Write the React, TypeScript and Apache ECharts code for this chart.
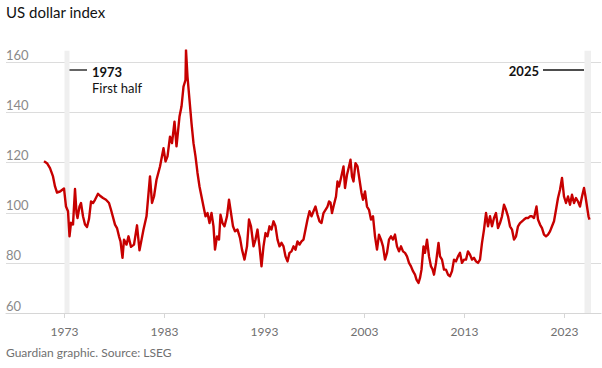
import React, { useEffect, useRef } from "react";
import * as echarts from "echarts";

const FONT = "Lato, 'Noto Sans', sans-serif";

const years: number[] = [
  1970.95, 1971.25, 1971.55, 1971.85, 1972.05, 1972.25, 1972.55, 1972.95, 1973.15, 1973.35,
  1973.5, 1973.65, 1973.85, 1974.05, 1974.2, 1974.3, 1974.5, 1974.65, 1974.85, 1975.05,
  1975.25, 1975.45, 1975.65, 1975.85, 1976.05, 1976.35, 1976.55, 1976.85, 1977.15, 1977.45,
  1977.65, 1978.05, 1978.25, 1978.45, 1978.6, 1978.8, 1978.95, 1979.2, 1979.4, 1979.65,
  1979.95, 1980.25, 1980.5, 1980.9, 1981.2, 1981.55, 1981.75, 1981.95, 1982.2, 1982.55,
  1982.9, 1983.1, 1983.3, 1983.55, 1983.75, 1984.0, 1984.2, 1984.5, 1984.7, 1984.9,
  1985.1, 1985.15, 1985.3, 1985.5, 1985.7, 1985.9, 1986.1, 1986.3, 1986.5, 1986.7,
  1986.9, 1987.1, 1987.3, 1987.5, 1987.7, 1987.9, 1988.05, 1988.25, 1988.45, 1988.6,
  1988.8, 1989.0, 1989.25, 1989.45, 1989.65, 1989.85, 1990.05, 1990.3, 1990.55, 1990.75,
  1991.0, 1991.25, 1991.45, 1991.65, 1991.9, 1992.1, 1992.3, 1992.5, 1992.7, 1992.9,
  1993.1, 1993.3, 1993.5, 1993.7, 1993.9, 1994.1, 1994.3, 1994.5, 1994.7, 1994.9,
  1995.1, 1995.3, 1995.5, 1995.7, 1995.9, 1996.1, 1996.3, 1996.5, 1996.7, 1996.9,
  1997.1, 1997.3, 1997.5, 1997.7, 1997.9, 1998.1, 1998.3, 1998.5, 1998.7, 1998.9,
  1999.1, 1999.3, 1999.45, 1999.6, 1999.75, 1999.9, 2000.15, 2000.3, 2000.45, 2000.65,
  2000.9, 2001.05, 2001.25, 2001.45, 2001.6, 2001.75, 2001.9, 2002.1, 2002.3, 2002.5,
  2002.7, 2002.85, 2003.05, 2003.25, 2003.45, 2003.65, 2003.85, 2004.05, 2004.25, 2004.45,
  2004.65, 2004.85, 2005.05, 2005.25, 2005.45, 2005.65, 2005.85, 2006.05, 2006.25, 2006.45,
  2006.65, 2006.85, 2007.05, 2007.25, 2007.45, 2007.65, 2007.85, 2008.05, 2008.2, 2008.4,
  2008.55, 2008.7, 2008.9, 2009.05, 2009.25, 2009.45, 2009.65, 2009.8, 2009.95, 2010.15,
  2010.4, 2010.55, 2010.75, 2010.95, 2011.15, 2011.35, 2011.55, 2011.75, 2011.95, 2012.15,
  2012.35, 2012.55, 2012.75, 2012.95, 2013.15, 2013.35, 2013.55, 2013.75, 2013.95, 2014.15,
  2014.35, 2014.55, 2014.75, 2014.95, 2015.15, 2015.35, 2015.55, 2015.75, 2015.95, 2016.15,
  2016.35, 2016.55, 2016.75, 2016.95, 2017.15, 2017.35, 2017.55, 2017.75, 2017.95, 2018.15,
  2018.35, 2018.55, 2018.75, 2018.95, 2019.15, 2019.35, 2019.55, 2019.75, 2019.95, 2020.2,
  2020.35, 2020.55, 2020.75, 2020.95, 2021.15, 2021.35, 2021.55, 2021.75, 2021.95, 2022.15,
  2022.35, 2022.55, 2022.75, 2022.95, 2023.15, 2023.35, 2023.55, 2023.75, 2023.95, 2024.15,
  2024.35, 2024.55, 2024.75, 2024.95, 2025.1, 2025.25, 2025.4, 2025.5,
];

const dollarIndex: number[] = [
  120.6, 119.8, 117.8, 114.5, 110.5, 108.1, 108.5, 109.7, 102.5, 100.6,
  90.6, 96, 95.3, 109.5, 99.9, 97.9, 102.5, 103.9, 98.6, 95.3,
  94.3, 97.5, 104.5, 103.9, 105.2, 107.6, 106.8, 105.9, 105.2, 103.9,
  101.2, 95.3, 93.9, 90.6, 88.6, 82, 89.3, 87.3, 90.6, 86.4,
  87.3, 95, 85, 93.3, 98.6, 114.5, 103.9, 106.5, 113.2, 118.5,
  125.8, 120.5, 122.5, 130.4, 127.8, 136.4, 126.5, 138.4, 142.4, 150.4,
  153, 165, 154.3, 145.1, 135.8, 127.8, 122.5, 115.9, 110.5, 106.5,
  102.5, 98.6, 99.9, 95.9, 99.9, 94.6, 85.3, 90.6, 89.3, 99.2,
  95.9, 94.6, 98.6, 105.2, 99.9, 94.6, 92.6, 93.3, 90, 85.3,
  81.3, 86.6, 97.3, 94.6, 86.6, 89.3, 93.3, 86.6, 78.6, 86.6,
  91.9, 90.6, 94.6, 93.3, 96.6, 94.6, 89.3, 86.6, 88, 86.6,
  82.6, 80.6, 84, 84.6, 86.6, 85.3, 88.6, 87.3, 88.6, 89.3,
  93.3, 97.3, 100.6, 98.6, 100.6, 102.5, 99.2, 96.6, 95.9, 99.9,
  101.2, 102.5, 104.5, 104, 99.9, 102.5, 106.5, 112.5, 110.5, 113.9,
  118.5, 109.9, 115.2, 118.5, 121.2, 114.5, 112.5, 119.8, 118.5, 113.2,
  107.9, 105.2, 108.5, 102.5, 101.2, 97.3, 98.6, 90.6, 85.3, 91.3,
  89.3, 86.6, 81.3, 84, 89.3, 90.6, 89.3, 91.3, 86.6, 84.6,
  86.6, 84.6, 84, 82.6, 80, 78.6, 76.7, 75.3, 73.3, 72,
  74, 77.3, 86.6, 84, 89.3, 82.6, 78.6, 77.5, 75.3, 80,
  88, 82.6, 81.3, 77.3, 77.3, 75.3, 74.7, 76.7, 81.3, 80.6,
  82.6, 84, 80, 81.3, 81.3, 84.6, 83.3, 81.3, 82, 80.6,
  80, 81.3, 88, 93.3, 99.9, 94.6, 98.6, 94.6, 97.9, 99.9,
  93.9, 95.9, 98.6, 103.2, 101.2, 98.6, 94.6, 93.3, 89.3, 90.6,
  94.6, 95.9, 96.6, 97.3, 97.9, 97.9, 98.6, 98.6, 97.9, 102.5,
  97.3, 95.3, 93.9, 91.3, 90.6, 91.3, 92.6, 94.6, 96.6, 101.2,
  105.9, 109.2, 113.9, 106.5, 103.9, 106.5, 103.2, 107.2, 103.9, 105.9,
  104.5, 102.5, 106.5, 109.9, 106.5, 102.5, 98.6, 97.3,
];

const xTicks: number[] = [1973, 1983, 1993, 2003, 2013, 2023];
const yTicks: number[] = [60, 80, 100, 120, 140, 160];
const bands: [number, number][] = [
  [1973, 1973.5],
  [2025, 2025.65],
];

const TITLE = "US dollar index";
const SOURCE = "Guardian graphic. Source: LSEG";

export default function App() {
  const ref = useRef<HTMLDivElement>(null);

  useEffect(() => {
    if (!ref.current) return;
    const chart = echarts.init(ref.current, undefined, { renderer: "svg" });
    const data = years.map((y, i) => [y, dollarIndex[i]]);
    chart.setOption({
      animation: false,
      backgroundColor: "#ffffff",
      textStyle: { fontFamily: FONT },
      grid: { left: 6, right: 1, top: 50.7, bottom: 55, containLabel: false },
      xAxis: {
        type: "value",
        min: 1967.15,
        max: 2026.65,
        axisLine: { show: true, lineStyle: { color: "#d6d6d6", width: 1 } },
        axisTick: {
          show: true,
          customValues: xTicks,
          length: 5,
          lineStyle: { color: "#d6d6d6" },
        },
        axisLabel: {
          customValues: xTicks,
          color: "#707070",
          fontSize: 12,
          fontFamily: FONT,
          margin: 12,
          formatter: (v: number) => String(Math.round(v)),
        },
        splitLine: { show: false },
      },
      yAxis: {
        type: "value",
        min: 60,
        max: 164.7,
        axisLine: { show: false },
        axisTick: { show: false, customValues: yTicks },
        axisLabel: {
          customValues: yTicks,
          inside: true,
          margin: 0,
          align: "left",
          verticalAlign: "bottom",
          padding: [0, 0, 1, 0],
          color: "#8a8a8a",
          fontSize: 13,
          fontFamily: FONT,
        },
        splitLine: { show: true, lineStyle: { color: "#dcdcdc", width: 1 } },
      },
      series: [
        {
          type: "line",
          data,
          showSymbol: false,
          symbol: "none",
          lineStyle: { color: "#c70000", width: 2.4, join: "round" },
          z: 3,
          markArea: {
            silent: true,
            itemStyle: { color: "#efefef" },
            data: bands.map(([a, b]) => [{ xAxis: a }, { xAxis: b }]),
          },
        },
      ],
      graphic: [
        {
          type: "text",
          left: 6,
          top: 4,
          style: { text: TITLE, fontSize: 15, fill: "#121212", fontFamily: FONT },
        },
        {
          type: "line",
          shape: { x1: 67, y1: 70, x2: 87, y2: 70 },
          style: { stroke: "#121212", lineWidth: 1.3 },
        },
        {
          type: "text",
          x: 92,
          y: 72,
          style: {
            text: "1973",
            fontSize: 13,
            fontWeight: "bold",
            fill: "#121212",
            fontFamily: FONT,
            verticalAlign: "middle",
          },
        },
        {
          type: "text",
          x: 92,
          y: 88,
          style: {
            text: "First half",
            fontSize: 13,
            fill: "#121212",
            fontFamily: FONT,
            verticalAlign: "middle",
          },
        },
        {
          type: "text",
          x: 539,
          y: 71,
          style: {
            text: "2025",
            fontSize: 13,
            fontWeight: "bold",
            fill: "#121212",
            fontFamily: FONT,
            align: "right",
            verticalAlign: "middle",
          },
        },
        {
          type: "line",
          shape: { x1: 543, y1: 70, x2: 584, y2: 70 },
          style: { stroke: "#121212", lineWidth: 1.3 },
        },
        {
          type: "text",
          left: 6,
          top: 346,
          style: { text: SOURCE, fontSize: 12, fill: "#707070", fontFamily: FONT },
        },
      ],
    });
    return () => chart.dispose();
  }, []);

  return <div ref={ref} style={{ width: 602, height: 368, position: "absolute", left: 0, top: 0 }} />;
}
